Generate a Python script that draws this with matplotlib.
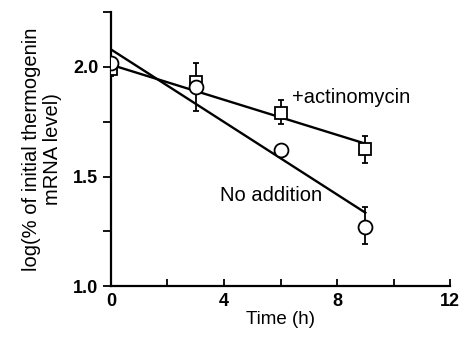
import numpy as np
import matplotlib
matplotlib.use("Agg")
import matplotlib.pyplot as plt

plt.rcParams['font.family'] = ['Liberation Sans', 'DejaVu Sans']

# data
t_act = [0, 3, 6, 9]
y_act = [1.99, 1.93, 1.79, 1.625]
err_act_lo = [0.03, 0.0, 0.05, 0.065]
err_act_hi = [0.0, 0.09, 0.06, 0.06]

t_no = [0, 3, 6, 9]
y_no = [2.02, 1.91, 1.62, 1.27]
err_no_lo = [0.0, 0.11, 0.0, 0.08]
err_no_hi = [0.0, 0.0, 0.0, 0.09]

# fitted regression lines (end points)
fit_t = [0, 9]
fit_act = [2.01, 1.65]
fit_no = [2.08, 1.335]

xticks = [0, 4, 8, 12]
yticks = [1.0, 1.5, 2.0]

fig = plt.figure(figsize=(4.66, 3.37), dpi=100)
ax = fig.add_axes([0.238, 0.151, 0.728, 0.813])

ax.plot(fit_t, fit_act, color='black', lw=1.7)
ax.plot(fit_t, fit_no, color='black', lw=1.7)

ax.errorbar(t_act, y_act, yerr=[err_act_lo, err_act_hi], fmt='s', ms=9,
            mfc='white', mec='black', mew=1.3, ecolor='black', elinewidth=1.3,
            capsize=2.5, capthick=1.3, zorder=3)
ax.errorbar(t_no, y_no, yerr=[err_no_lo, err_no_hi], fmt='o', ms=10,
            mfc='white', mec='black', mew=1.3, ecolor='black', elinewidth=1.3,
            capsize=2.5, capthick=1.3, zorder=4)

ax.text(6.4, 1.86, '+actinomycin', fontsize=14.5, va='center', ha='left')
ax.text(3.86, 1.415, 'No addition', fontsize=14.5, va='center', ha='left')

ax.set_xlim(0, 12)
ax.set_ylim(1.0, 2.25)
ax.set_xticks(xticks)
ax.set_xticks([2, 6, 10], minor=True)
ax.set_yticks(yticks)
ax.set_yticks([1.25, 1.75, 2.25], minor=True)
ax.set_yticklabels(['1.0', '1.5', '2.0'])
ax.tick_params(axis='x', which='both', direction='in', length=5, width=1.3,
               labelsize=13, pad=5)
ax.tick_params(axis='y', which='both', direction='out', length=6, width=1.3,
               labelsize=13, pad=3)
for lab in ax.get_xticklabels() + ax.get_yticklabels():
    lab.set_fontweight('bold')

ax.spines['top'].set_visible(False)
ax.spines['right'].set_visible(False)
ax.spines['left'].set_linewidth(1.6)
ax.spines['bottom'].set_linewidth(1.6)

ax.set_xlabel('Time (h)', fontsize=13.5, labelpad=1)
ax.set_ylabel('log(% of initial thermogenin\nmRNA level)', fontsize=14.5,
              labelpad=8, linespacing=1.15)

plt.savefig('out.png', dpi=100)
